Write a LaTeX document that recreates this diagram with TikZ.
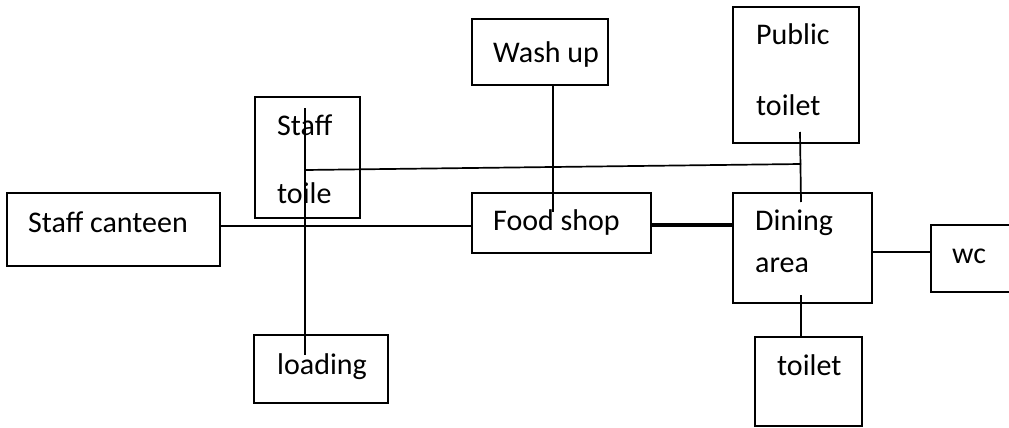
\documentclass[tikz,border=0pt]{standalone}
\usepackage{fontspec}
\setmainfont{Carlito}
\begin{document}
\begin{tikzpicture}[x=1pt,y=-1pt,
  box/.style={draw, line width=1.8pt, inner sep=0pt, rectangle},
  lbl/.style={anchor=base west, inner sep=0pt, font=\fontsize{30}{36}\selectfont},
  conn/.style={line width=1.7pt},
  thick conn/.style={line width=4.5pt}]
\useasboundingbox (0,0) rectangle (1009,428);
% boxes
\node[box, minimum width=213pt, minimum height=73pt] (canteen) at (113.5,229.5) {};
\node[box, minimum width=105pt, minimum height=121pt] (stoile) at (307.5,157.5) {};
\node[box, minimum width=136pt, minimum height=66pt] (wash) at (540,52) {};
\node[box, minimum width=126pt, minimum height=136pt] (public) at (796,75) {};
\node[box, minimum width=179pt, minimum height=60pt] (food) at (561.5,223) {};
\node[box, minimum width=139pt, minimum height=110pt] (dining) at (802.5,248) {};
\node[box, minimum width=90pt, minimum height=67pt] (wc) at (976,258.5) {};
\node[box, minimum width=134pt, minimum height=68pt] (loading) at (321,369) {};
\node[box, minimum width=107pt, minimum height=89pt] (toilet) at (808.5,381.5) {};
% labels
\node[lbl] (tcanteen) at (28,232) {Staff canteen};
\node[lbl] (tstaff) at (277,135) {Staff};
\node[lbl] (ttoile) at (277,203) {toile};
\node[lbl] (twash) at (493,63) {Wash up};
\node[lbl] (tpublic) at (756,45) {Public};
\node[lbl] (tptoilet) at (756,115) {toilet};
\node[lbl] (tfood) at (493,230) {Food shop};
\node[lbl] (tdining) at (755,230) {Dining};
\node[lbl] (tarea) at (755,272) {area};
\node[lbl] (twc) at (952,263) {wc};
\node[lbl] (tloading) at (277,374) {loading};
\node[lbl] (ttoilet) at (777,375) {toilet};
% connector end points
\coordinate (sv1) at (305,108);
\coordinate (sv2) at (305,355);
\coordinate (sh1) at (305,170);
\coordinate (sh2) at (801,164);
\coordinate (pv1) at (800,132);
\coordinate (pv2) at (801,202);
\coordinate (wv2) at (553,212);
\coordinate (tv1) at (801,295);
\coordinate (hA) at (0,226);
\coordinate (hB) at (0,225);
\coordinate (hC) at (0,252);
% connectors
\draw[conn] (canteen.east |- hA) -- (food.west |- hA);
\draw[conn] (sv1) -- (sv2);
\draw[conn] (sh1) -- (sh2);
\draw[conn] (pv1) -- (pv2);
\draw[conn] (wash.south -| wv2) -- (wv2);
\draw[thick conn] (food.east |- hB) -- (dining.west |- hB);
\draw[conn] (dining.east |- hC) -- (wc.west |- hC);
\draw[conn] (tv1) -- (toilet.north -| tv1);
\end{tikzpicture}
\end{document}
